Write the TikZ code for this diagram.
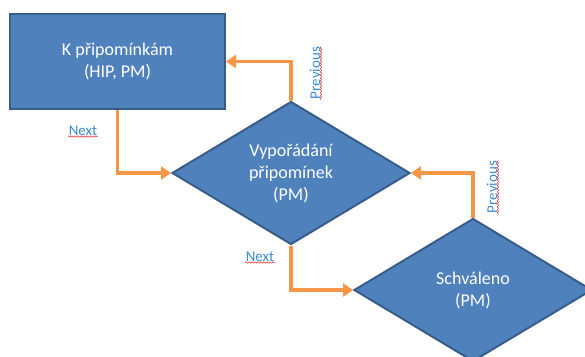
\documentclass[tikz,border=0pt]{standalone}
\usepackage{fontspec}
\setmainfont{Carlito}
\usetikzlibrary{shapes.geometric,arrows.meta,decorations.pathmorphing}
\definecolor{boxblue}{HTML}{4F81BD}
\definecolor{boxline}{HTML}{385D8A}
\definecolor{flow}{HTML}{F79646}
\definecolor{linkblue}{HTML}{3D8BD6}
\definecolor{spell}{HTML}{E8453C}
\tikzset{
  state/.style={fill=boxblue, draw=boxline, line width=2pt, text=white,
    font=\fontsize{18}{22}\selectfont, align=center, inner sep=0pt},
  decision/.style={state, diamond, minimum width=238pt, minimum height=143pt},
  flowarrow/.style={draw=flow, line width=3.5pt, -{Triangle[length=10pt,width=13pt]}},
  linklabel/.style={text=linkblue, font=\fontsize{15}{16}\selectfont, inner sep=0.5pt},
  wavy/.style={draw=spell, line width=0.6pt, decorate,
    decoration={snake, amplitude=0.7pt, segment length=3pt}}
}
\begin{document}
\begin{tikzpicture}[x=1pt,y=-1pt]
  \useasboundingbox (0,0) rectangle (585,356);
  \clip (0,0) rectangle (585,356);
  \node[state, minimum width=215pt, minimum height=95pt] (kp) at (117.5,61.5)
    {K připomínkám\\(HIP, PM)};
  \node[decision] (vyp) at (291,173) {Vypořádání\\připomínek\\(PM)};
  \node[decision] (sch) at (473,290) {Schváleno\\(PM)};
  \draw[flowarrow] (kp.south) |- (vyp.west);
  \draw[flowarrow] (vyp.north) |- (kp.east);
  \draw[flowarrow] (vyp.south) |- (sch.west);
  \draw[flowarrow] (sch.north) |- (vyp.east);
  % link labels
  \node[linklabel] (next1) at (83,131) {Next};
  \node[linklabel] (next2) at (260,257) {Next};
  \node[linklabel, rotate=90] (prev1) at (315,73) {Previous};
  \node[linklabel, rotate=90] (prev2) at (492,187) {Previous};
  \foreach \l in {next1,next2,prev1,prev2}
    \draw[wavy] (\l.south west) -- (\l.south east);
\end{tikzpicture}
\end{document}
